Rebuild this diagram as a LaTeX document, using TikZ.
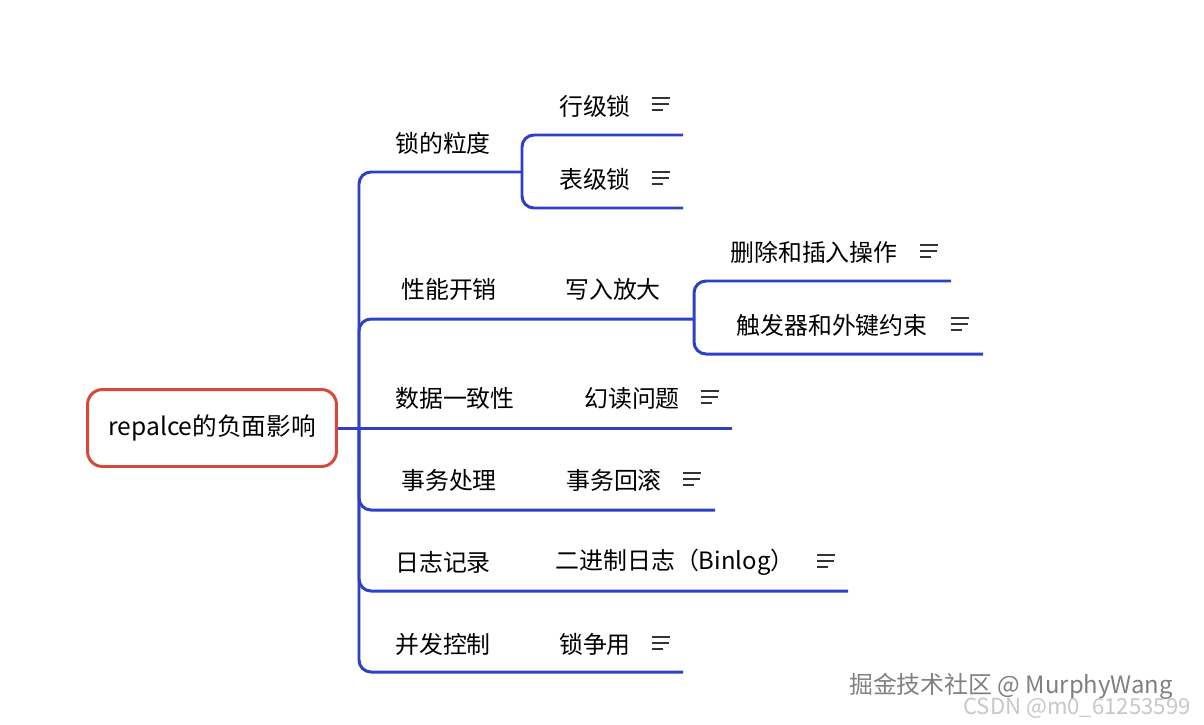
\documentclass[tikz,border=0pt]{standalone}
\usepackage{fontspec}
\setmainfont{Noto Sans CJK SC}
\usetikzlibrary{positioning}
\definecolor{rootred}{HTML}{D6483A}
\definecolor{branchblue}{HTML}{2E40C6}

\begin{document}
\begin{tikzpicture}[x=0.02cm, y=-0.02cm]

\tikzset{root/.style = {draw=rootred, line width=1.7pt, rounded corners=0.3cm, minimum width=4.98cm, minimum height=1.54cm, font=\fontsize{14}{16}\selectfont}}
\tikzset{topic/.style = {inner sep=0pt, font=\fontsize{13.6}{16}\selectfont}}
\tikzset{branch/.style = {draw=branchblue, line width=1.7pt, rounded corners=0.24cm}}
\tikzset{noteicon/.pic = {\draw[line width=0.9pt, black!80] (-9,-6) -- (9,-6) (-9,0) -- (8,0) (-9,6) -- (2,6);}}

\useasboundingbox (0,0) rectangle (1204,724);

% root
\node[root] (root) at (212,428) {repalce的负面影响};
% joints
\coordinate (hub) at (359,428);
\coordinate (lidu-j) at (522,172);
\coordinate (xieru-j) at (694,319);
% topics
\node[topic] (lidu) at (443,143) {锁的粒度};
\node[topic] (hangji) at (595,106) {行级锁};
\node[topic] (biaoji) at (595,179) {表级锁};
\node[topic] (xingneng) at (449,289) {性能开销};
\node[topic] (xieru) at (613,289) {写入放大};
\node[topic] (shanchu) at (814,252) {删除和插入操作};
\node[topic] (chufa) at (832,325) {触发器和外键约束};
\node[topic] (yizhi) at (455,398) {数据一致性};
\node[topic] (huandu) at (632,398) {幻读问题};
\node[topic] (shiwu) at (449,480) {事务处理};
\node[topic] (huigun) at (614,480) {事务回滚};
\node[topic] (rizhi) at (443,562) {日志记录};
\node[topic] (binlog) at (675,562) {二进制日志（Binlog）};
\node[topic] (bingfa) at (443,644) {并发控制};
\node[topic] (zhengyong) at (595,644) {锁争用};
% ends of the underlines
\coordinate (hangji-e) at (683,135);
\coordinate (biaoji-e) at (683,208);
\coordinate (shanchu-e) at (951,281);
\coordinate (chufa-e) at (983,354);
\coordinate (huandu-e) at (732,428);
\coordinate (huigun-e) at (715,510);
\coordinate (binlog-e) at (848,591);
\coordinate (zhengyong-e) at (683,672);
% branches
\draw[branch] (root.east) -- (huandu-e);
\draw[branch] (hub) |- (lidu-j);
\draw[branch] (lidu-j) |- (hangji-e);
\draw[branch] (lidu-j) |- (biaoji-e);
\draw[branch] (hub) |- (xieru-j);
\draw[branch] (xieru-j) |- (shanchu-e);
\draw[branch] (xieru-j) |- (chufa-e);
\draw[branch] (hub) |- (huigun-e);
\draw[branch] (hub) |- (binlog-e);
\draw[branch] (hub) |- (zhengyong-e);
% notes
\pic at (661,104) {noteicon};
\pic at (661,178) {noteicon};
\pic at (929,251) {noteicon};
\pic at (960,324) {noteicon};
\pic at (710,397) {noteicon};
\pic at (692,479) {noteicon};
\pic at (826,561) {noteicon};
\pic at (661,643) {noteicon};
% watermarks
\node[font=\fontsize{13.6}{16}\selectfont, text=black!50] (jj) at (1011,686) {掘金技术社区 @ MurphyWang};
\node[font=\fontsize{12.6}{15}\selectfont, text=black!22] (csdn) at (1077,708) {CSDN @m0\_61253599};

\end{tikzpicture}
\end{document}
